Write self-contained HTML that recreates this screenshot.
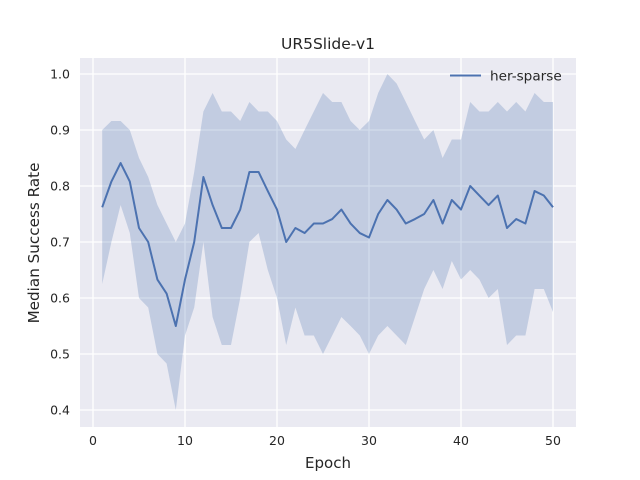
<!DOCTYPE html>
<html><head><meta charset="utf-8"><style>
body{margin:0;background:#fff;}
svg{display:block;font-family:"DejaVu Sans","Liberation Sans",sans-serif;}
</style></head><body>
<svg id="c" width="640" height="480"></svg>
<script>
const epochs=[];for(let i=1;i<=50;i++)epochs.push(i);
const median=[0.762,0.808,0.841,0.808,0.725,0.7,0.633,0.608,0.55,0.633,0.7,0.816,0.766,0.725,0.725,0.758,0.825,0.825,0.791,0.758,0.7,0.725,0.716,0.733,0.733,0.741,0.758,0.733,0.716,0.708,0.75,0.775,0.758,0.733,0.741,0.75,0.775,0.733,0.775,0.758,0.8,0.783,0.766,0.783,0.725,0.741,0.733,0.791,0.783,0.762];
const upper=[0.9,0.916,0.916,0.9,0.85,0.816,0.766,0.733,0.7,0.733,0.825,0.933,0.966,0.933,0.933,0.916,0.95,0.933,0.933,0.916,0.883,0.866,0.9,0.933,0.966,0.95,0.95,0.916,0.9,0.916,0.966,1.0,0.983,0.95,0.916,0.883,0.9,0.85,0.883,0.883,0.95,0.933,0.933,0.95,0.933,0.95,0.933,0.966,0.95,0.95];
const lower=[0.625,0.7,0.766,0.716,0.6,0.583,0.5,0.483,0.4,0.533,0.583,0.7,0.566,0.516,0.516,0.6,0.7,0.716,0.65,0.6,0.516,0.583,0.533,0.533,0.5,0.533,0.566,0.55,0.533,0.5,0.533,0.55,0.533,0.516,0.566,0.616,0.65,0.616,0.666,0.633,0.65,0.633,0.6,0.616,0.516,0.533,0.533,0.616,0.616,0.575];
const xTicks=[0,10,20,30,40,50];
const yTicks=[0.4,0.5,0.6,0.7,0.8,0.9,1.0];
const L=80,R=576,T=58,B=427;
const xs=v=>93+(v-0)*(553-93)/50;
const ys=v=>410-(v-0.4)*(410-74)/0.6;
const svg=document.getElementById('c');const NS='http://www.w3.org/2000/svg';
function mk(t,a,p){const e=document.createElementNS(NS,t);for(const k in a)e.setAttribute(k,a[k]);(p||svg).appendChild(e);return e;}
const bg=mk('rect',{x:L,y:T,width:R-L,height:B-T,fill:'#eaeaf2'});


xTicks.forEach(t=>{const g=mk('line',{x1:xs(t),x2:xs(t),y1:T,y2:B,stroke:'#fff','stroke-width':1.3});


const tx=mk('text',{x:xs(t),y:B+18,'text-anchor':'middle','font-size':12.5,fill:'#262626'});tx.textContent=t;

});
yTicks.forEach(t=>{const g=mk('line',{x1:L,x2:R,y1:ys(t),y2:ys(t),stroke:'#fff','stroke-width':1.3});


const tx=mk('text',{x:L-10,y:ys(t)+4.5,'text-anchor':'end','font-size':12.5,fill:'#262626'});tx.textContent=t.toFixed(1);

});
let d='';epochs.forEach((e,i)=>d+=(i?'L':'M')+xs(e)+','+ys(upper[i]));
for(let i=epochs.length-1;i>=0;i--)d+='L'+xs(epochs[i])+','+ys(lower[i]);d+='Z';
const band=mk('path',{d:d,fill:'#4c72b0','fill-opacity':0.25});


let p='';epochs.forEach((e,i)=>p+=(i?'L':'M')+xs(e)+','+ys(median[i]));
const ln=mk('path',{d:p,fill:'none',stroke:'#4c72b0','stroke-width':2,'stroke-linejoin':'round'});


const ti=mk('text',{x:328,y:49,'text-anchor':'middle','font-size':15.5,fill:'#262626'});ti.textContent='UR5Slide-v1';


const xl=mk('text',{x:328,y:468,'text-anchor':'middle','font-size':15,fill:'#262626'});xl.textContent='Epoch';


const yl=mk('text',{x:0,y:0,'text-anchor':'middle','font-size':15.2,fill:'#262626',transform:'translate(39,243) rotate(-90)'});yl.textContent='Median Success Rate';


const lg=mk('g',{});


mk('line',{x1:450,x2:481,y1:75.5,y2:75.5,stroke:'#4c72b0','stroke-width':2},lg);
const lt=mk('text',{x:490,y:80.5,'font-size':13.6,fill:'#262626'},lg);lt.textContent='her-sparse';
</script>
</body></html>
